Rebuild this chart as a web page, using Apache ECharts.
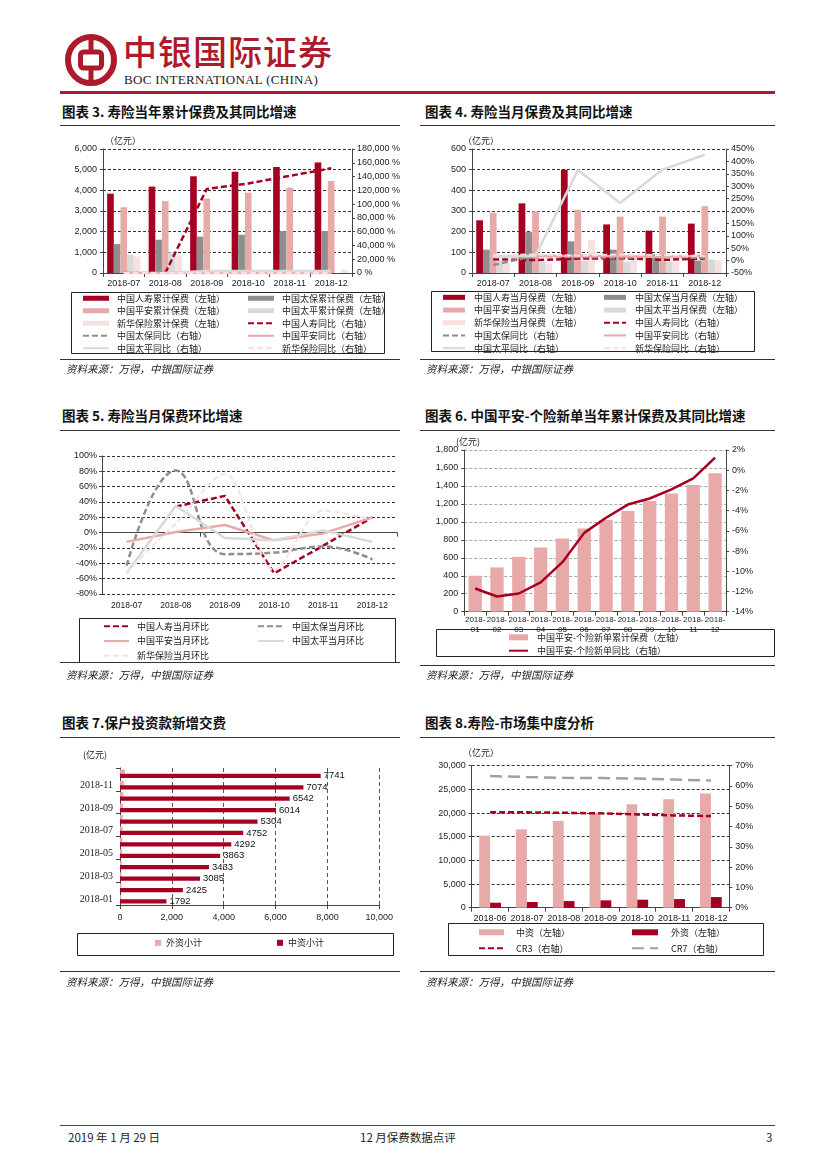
<!DOCTYPE html>
<html><head><meta charset="utf-8">
<script src="https://cdn.jsdelivr.net/npm/echarts@6/dist/echarts.min.js"></script>
<style>
body{margin:0;width:827px;height:1169px;background:#fff;position:relative;overflow:hidden;font-family:"Noto Sans CJK SC",sans-serif;}
.title{position:absolute;font-size:13.5px;font-weight:bold;color:#111;white-space:nowrap;line-height:16px;}
.hline{position:absolute;height:1px;background:#333;}
.src{position:absolute;font-size:10.5px;font-style:italic;color:#222;white-space:nowrap;line-height:14px;}
.chart{position:absolute;}
.txt{position:absolute;white-space:nowrap;}
</style></head><body>

<svg class="txt" style="left:64px;top:33px" width="54" height="54" viewBox="0 0 54 54">
  <circle cx="27" cy="27" r="23" fill="none" stroke="#ad1a2c" stroke-width="6"/>
  <rect x="16.5" y="19" width="21" height="16" rx="3" fill="none" stroke="#ad1a2c" stroke-width="5"/>
  <line x1="27" y1="4" x2="27" y2="19" stroke="#ad1a2c" stroke-width="5"/>
  <line x1="27" y1="35" x2="27" y2="50" stroke="#ad1a2c" stroke-width="5"/>
</svg>
<div class="txt" style="left:123px;top:30px;font-size:34px;font-weight:500;color:#ad1a2c;letter-spacing:1px;line-height:42px;">中银国际证券</div>
<div class="txt" style="left:124px;top:72px;font-size:13px;font-family:'Liberation Serif',serif;color:#222;letter-spacing:0.3px;line-height:16px;">BOC INTERNATIONAL (CHINA)</div>
<div class="hline" style="left:60px;top:91px;width:715px;height:3px;background:#ad1a2c;"></div>

<div class="title" style="left:62px;top:103px;">图表 3. 寿险当年累计保费及其同比增速</div>
<div class="title" style="left:425px;top:103px;">图表 4. 寿险当月保费及其同比增速</div>
<div class="hline" style="left:60px;top:125px;width:340px;"></div>
<div class="hline" style="left:420px;top:125px;width:355px;"></div>

<div class="title" style="left:62px;top:407px;">图表 5. 寿险当月保费环比增速</div>
<div class="title" style="left:425px;top:407px;">图表 6. 中国平安-个险新单当年累计保费及其同比增速</div>
<div class="hline" style="left:60px;top:430px;width:340px;"></div>
<div class="hline" style="left:420px;top:430px;width:355px;"></div>

<div class="title" style="left:62px;top:714px;">图表 7.保户投资款新增交费</div>
<div class="title" style="left:425px;top:714px;">图表 8.寿险-市场集中度分析</div>
<div class="hline" style="left:60px;top:737px;width:340px;"></div>
<div class="hline" style="left:420px;top:737px;width:355px;"></div>

<div id="c3" class="chart" style="left:55px;top:128px;width:350px;height:232px;"></div>
<div id="c4" class="chart" style="left:420px;top:128px;width:360px;height:232px;"></div>
<div id="c5" class="chart" style="left:50px;top:432px;width:355px;height:232px;"></div>
<div id="c6" class="chart" style="left:420px;top:432px;width:360px;height:232px;"></div>
<div id="c7" class="chart" style="left:50px;top:740px;width:355px;height:232px;"></div>
<div id="c8" class="chart" style="left:420px;top:740px;width:360px;height:232px;"></div>

<div class="hline" style="left:60px;top:359px;width:340px;"></div>
<div class="hline" style="left:420px;top:359px;width:355px;"></div>
<div class="src" style="left:66px;top:362px;">资料来源：万得，中银国际证券</div>
<div class="src" style="left:426px;top:362px;">资料来源：万得，中银国际证券</div>

<div class="hline" style="left:60px;top:662px;width:340px;"></div>
<div class="hline" style="left:420px;top:665px;width:355px;"></div>
<div class="src" style="left:66px;top:668px;">资料来源：万得，中银国际证券</div>
<div class="src" style="left:426px;top:668px;">资料来源：万得，中银国际证券</div>

<div class="hline" style="left:60px;top:971px;width:340px;"></div>
<div class="hline" style="left:420px;top:971px;width:355px;"></div>
<div class="src" style="left:66px;top:975px;">资料来源：万得，中银国际证券</div>
<div class="src" style="left:426px;top:975px;">资料来源：万得，中银国际证券</div>

<div class="hline" style="left:60px;top:1125px;width:715px;background:#ad1a2c;"></div>
<div class="txt" style="left:68px;top:1129px;font-size:11.5px;color:#222;">2019 年 1 月 29 日</div>
<div class="txt" style="left:360px;top:1129px;font-size:11.5px;color:#222;">12 月保费数据点评</div>
<div class="txt" style="left:766px;top:1129px;font-size:11.5px;color:#222;">3</div>

<script>
// ---------- DATA ----------
const months6 = ['2018-07','2018-08','2018-09','2018-10','2018-11','2018-12'];
// Chart 3: cumulative premiums (亿元) and YoY (%)
const c3ChinaLife = [3840,4180,4680,4900,5130,5350];
const c3Cpic = [1400,1610,1760,1850,2020,2030];
const c3PingAn = [3180,3480,3600,3890,4130,4450];
const c3Taiping = [890,1000,null,null,null,null];
const c3Xinhua = [800,850,null,null,null,150];
const c3ChinaLifeYoy = [null,0,122000,130000,141000,152000];
const c3CpicYoy = [15,13,14,14,13,13];
const c3PingAnYoy = [18,17,16,16,15,15];
const c3TaipingYoy = [null,0,3000,3000,3000,3000];
const c3XinhuaYoy = [6,5,4,4,3,3];
const c3Names = ['中国人寿累计保费（左轴）','中国太保累计保费（左轴）','中国平安累计保费（左轴）','中国太平累计保费（左轴）','新华保险累计保费（左轴）','中国人寿同比（右轴）','中国太保同比（右轴）','中国平安同比（右轴）','中国太平同比（右轴）','新华保险同比（右轴）'];

// Chart 4: monthly premiums (亿元) and YoY (%)
const c4ChinaLife = [255,337,500,235,205,239];
const c4Cpic = [113,198,153,113,90,60];
const c4PingAn = [292,298,306,273,273,323];
const c4Taiping = [60,55,60,55,55,65];
const c4Xinhua = [50,45,160,72,55,62];
const c4ChinaLifeYoy = [5,2,8,10,3,8];
const c4CpicYoy = [-18,20,15,12,18,10];
const c4PingAnYoy = [18,18,20,18,15,20];
const c4TaipingYoy = [15,20,365,232,367,427];
const c4XinhuaYoy = [22,25,20,25,22,18];
const c4Names = ['中国人寿当月保费（左轴）','中国太保当月保费（左轴）','中国平安当月保费（左轴）','中国太平当月保费（左轴）','新华保险当月保费（左轴）','中国人寿同比（右轴）','中国太保同比（右轴）','中国平安同比（右轴）','中国太平同比（右轴）','新华保险同比（右轴）'];

// Chart 5: month-on-month growth (%)
const c5ChinaLife = [null,34,48,-53,-17,20];
const c5Cpic = [-43,81,-28,-26,-18,-35];
const c5PingAn = [-12,1,10,-10,-1,20];
const c5Taiping = [-53,35,-7,-10,3,-12];
const c5Xinhua = [-51,12,77,-49,29,17];
const c5Names = ['中国人寿当月环比','中国太保当月环比','中国平安当月环比','中国太平当月环比','新华保险当月环比'];

// Chart 6: Ping An individual new business
const c6Cats = ['2018-01','2018-02','2018-03','2018-04','2018-05','2018-06','2018-07','2018-08','2018-09','2018-10','2018-11','2018-12'];
const c6Premium = [400,493,611,715,815,927,1020,1120,1231,1317,1410,1540];
const c6Yoy = [-11.7,-12.5,-12.2,-11.1,-9.1,-6.2,-4.7,-3.4,-2.8,-1.9,-0.8,1.25];
const c6Names = ['中国平安-个险新单累计保费（左轴）','中国平安-个险新单同比（右轴）'];

// Chart 7: investment-type contracts new deposits (亿元)
const c7Cats = ['2018-01','2018-02','2018-03','2018-04','2018-05','2018-06','2018-07','2018-08','2018-09','2018-10','2018-11','2018-12'];
const c7Foreign = [50,55,60,70,70,90,100,110,110,130,150,190];
const c7Domestic = [1792,2425,3085,3433,3863,4292,4752,5304,6014,6542,7074,7741];
const c7Names = ['外资小计','中资小计'];

// Chart 8: market concentration
const c8Cats = ['2018-06','2018-07','2018-08','2018-09','2018-10','2018-11','2018-12'];
const c8Domestic = [15210,16550,18310,20070,21830,22890,24150];
const c8Foreign = [1060,1200,1400,1550,1690,1830,2250];
const c8CR3 = [47.0,47.0,46.8,46.5,46.0,45.5,45.2];
const c8CR7 = [64.9,64.4,64.0,63.9,63.7,63.2,62.7];
const c8Names = ['中资（左轴）','外资（左轴）','CR3（右轴）','CR7（右轴）'];

// ---------- STYLE HELPERS ----------
const NUMF = '"Liberation Sans", Arial, sans-serif';
const CNF = '"Noto Sans CJK SC", sans-serif';
const SERIF = '"Liberation Serif", "Times New Roman", serif';
const C_LIFE = '#a50021', C_CPIC = '#8e8e8e', C_PA = '#e8a9a9', C_TP = '#d9d9d9', C_XH = '#f8e0e0';
const comma = v => v.toLocaleString('en-US');
const axLine = {show:true, lineStyle:{color:'#444', width:1}};
const axTick = {show:true, length:3, lineStyle:{color:'#444'}};
const lbl = extra => Object.assign({fontFamily:NUMF, fontSize:9, color:'#222'}, extra || {});
const darkGrid = {show:true, lineStyle:{color:'#333', width:1, type:[3,2]}};

function barS(name, data, color, extra){
  return Object.assign({type:'bar', name, data, yAxisIndex:0, itemStyle:{color}, barGap:'0%', barCategoryGap:'20%'}, extra || {});
}
function lineS(name, data, color, width, dash, extra){
  return Object.assign({type:'line', name, data, yAxisIndex:1, symbol:'none', z:5,
    lineStyle:{color, width, type: dash || 'solid'}, itemStyle:{color}}, extra || {});
}
function legendCol(left, top, data, pitch, iw, ih, pad){
  return {orient:'vertical', left, top, padding:0, itemGap:0, itemWidth:iw, itemHeight:ih, selectedMode:false,
    textStyle:{fontFamily:CNF, fontSize:9, color:'#222', lineHeight:pitch, padding:[0,0,0,pad||3]}, data};
}
function box(x, y, w, h){
  return {type:'rect', z:-1, shape:{x:x+0.5, y:y+0.5, width:w, height:h}, style:{fill:'transparent', stroke:'#222', lineWidth:1}};
}
function unit(x, y, text){
  return {type:'text', z:3, x, y, style:{text: text || '（亿元）', fontSize:9, fontFamily:CNF, fill:'#222'}};
}
const bi = n => ({name:n, icon:'rect'});
const li = n => ({name:n, itemStyle:{opacity:0}});
const catLbl = extra => lbl(Object.assign({interval:0}, extra || {}));

// ---------- CHART 3 ----------
echarts.init(document.getElementById('c3')).setOption({
  animation:false,
  grid:{left:48, right:53, top:21, bottom:87},
  xAxis:{type:'category', data:months6, axisLine:axLine, axisTick:{show:true, length:4, lineStyle:{color:'#444'}}, axisLabel:catLbl({margin:6})},
  yAxis:[
    {type:'value', min:0, max:6000, interval:1000, axisLine:axLine, axisTick:axTick, axisLabel:lbl({formatter:comma, margin:6}), splitLine:darkGrid},
    {type:'value', min:0, max:180000, interval:20000, position:'right', axisLine:axLine, axisTick:axTick, axisLabel:lbl({formatter:'{value} %', margin:5}), splitLine:{show:false}}
  ],
  legend:[
    legendCol(27, 164, [bi(c3Names[0]), bi(c3Names[2]), bi(c3Names[4]), li(c3Names[6]), li(c3Names[8])], 12.5, 26, 5, 3),
    legendCol(192, 164, [bi(c3Names[1]), bi(c3Names[3]), li(c3Names[5]), li(c3Names[7]), li(c3Names[9])], 12.5, 26, 5, 3)
  ],
  graphic:[box(16, 164, 313, 61), unit(50, 8)],
  series:[
    barS(c3Names[0], c3ChinaLife, C_LIFE),
    barS(c3Names[1], c3Cpic, C_CPIC),
    barS(c3Names[2], c3PingAn, C_PA),
    barS(c3Names[3], c3Taiping, C_TP),
    barS(c3Names[4], c3Xinhua, C_XH),
    lineS(c3Names[5], c3ChinaLifeYoy, C_LIFE, 2.5, [6,3]),
    lineS(c3Names[6], c3CpicYoy, C_CPIC, 2.5, [6,3]),
    lineS(c3Names[7], c3PingAnYoy, C_PA, 2.5),
    lineS(c3Names[8], c3TaipingYoy, C_TP, 2.5),
    lineS(c3Names[9], c3XinhuaYoy, C_XH, 2, [6,3])
  ]
});

// ---------- CHART 4 ----------
echarts.init(document.getElementById('c4')).setOption({
  animation:false,
  grid:{left:52, right:54, top:21, bottom:87},
  xAxis:{type:'category', data:months6, axisLine:Object.assign({onZero:false}, axLine), axisTick:{show:true, length:4, lineStyle:{color:'#444'}}, axisLabel:catLbl({margin:6})},
  yAxis:[
    {type:'value', min:0, max:600, interval:100, axisLine:axLine, axisTick:axTick, axisLabel:lbl({margin:6}), splitLine:darkGrid},
    {type:'value', min:-50, max:450, interval:50, position:'right', axisLine:axLine, axisTick:axTick, axisLabel:lbl({formatter:'{value}%', margin:5}), splitLine:{show:false}}
  ],
  legend:[
    legendCol(22, 163, [bi(c4Names[0]), bi(c4Names[2]), bi(c4Names[4]), li(c4Names[6]), li(c4Names[8])], 12.7, 22, 5, 4),
    legendCol(183, 163, [bi(c4Names[1]), bi(c4Names[3]), li(c4Names[5]), li(c4Names[7]), li(c4Names[9])], 12.7, 22, 5, 4)
  ],
  graphic:[box(11, 163, 323, 60), unit(43, 8)],
  series:[
    barS(c4Names[0], c4ChinaLife, C_LIFE),
    barS(c4Names[1], c4Cpic, C_CPIC),
    barS(c4Names[2], c4PingAn, C_PA),
    barS(c4Names[3], c4Taiping, C_TP),
    barS(c4Names[4], c4Xinhua, C_XH),
    lineS(c4Names[5], c4ChinaLifeYoy, C_LIFE, 2.5, [6,3]),
    lineS(c4Names[6], c4CpicYoy, C_CPIC, 2.5, [6,3]),
    lineS(c4Names[7], c4PingAnYoy, C_PA, 2.5),
    lineS(c4Names[8], c4TaipingYoy, C_TP, 2.5),
    lineS(c4Names[9], c4XinhuaYoy, C_XH, 2, [6,3])
  ]
});

// ---------- CHART 5 ----------
echarts.init(document.getElementById('c5')).setOption({
  animation:false,
  grid:{left:52, right:8, top:24, bottom:70},
  xAxis:[
    {type:'category', data:months6, position:'bottom', axisLine:{show:false, onZero:false}, axisTick:{show:false}, axisLabel:catLbl({margin:7, fontSize:8.5})},
    {type:'category', data:months6, position:'bottom', axisLine:Object.assign({onZero:true, onZeroAxisIndex:0}, axLine), axisTick:{show:true, interval:1, length:4, lineStyle:{color:'#444'}}, axisLabel:{show:false}}
  ],
  yAxis:{type:'value', min:-80, max:100, interval:20, axisLine:axLine, axisTick:axTick, axisLabel:lbl({formatter:'{value}%', margin:5}), splitLine:darkGrid},
  legend:[
    legendCol(53, 187, [li(c5Names[0]), li(c5Names[2]), li(c5Names[4])], 14.7, 25, 5, 3),
    legendCol(207, 187, [li(c5Names[1]), li(c5Names[3])], 14.7, 26, 5, 3)
  ],
  graphic:[box(29, 186, 316, 44)],
  series:[
    lineS(c5Names[0], c5ChinaLife, C_LIFE, 2.5, [6,3], {yAxisIndex:0}),
    lineS(c5Names[1], c5Cpic, C_CPIC, 2.5, [6,3], {yAxisIndex:0, smooth:0.45}),
    lineS(c5Names[2], c5PingAn, C_PA, 2.5, null, {yAxisIndex:0}),
    lineS(c5Names[3], c5Taiping, C_TP, 2.5, null, {yAxisIndex:0}),
    lineS(c5Names[4], c5Xinhua, C_XH, 2, [6,3], {yAxisIndex:0, smooth:0.3})
  ]
});

// ---------- CHART 6 ----------
const lightGrid = {show:true, lineStyle:{color:'#a8a8a8', width:1, type:[3,2]}};
echarts.init(document.getElementById('c6')).setOption({
  animation:false,
  grid:{left:44.3, right:54, top:18, bottom:52.3},
  xAxis:{type:'category', data:c6Cats, axisLine:Object.assign({onZero:false}, axLine), axisTick:{show:true, length:4, lineStyle:{color:'#444'}},
    axisLabel:catLbl({fontSize:8, lineHeight:10, margin:3, formatter:v => v.replace('-', '-\n')})},
  yAxis:[
    {type:'value', min:0, max:1800, interval:200, axisLine:axLine, axisTick:axTick, axisLabel:lbl({formatter:comma, margin:6}), splitLine:lightGrid},
    {type:'value', min:-14, max:2, interval:2, position:'right', axisLine:axLine, axisTick:axTick, axisLabel:lbl({formatter:'{value}%', margin:6}), splitLine:{show:false}}
  ],
  legend:legendCol(88, 198.6, [bi(c6Names[0]), li(c6Names[1])], 13.4, 19, 6, 4),
  graphic:[box(16, 197, 338, 27), unit(36, 5, '(亿元)')],
  series:[
    {type:'bar', name:c6Names[0], data:c6Premium, yAxisIndex:0, itemStyle:{color:C_PA}, barCategoryGap:'39%'},
    lineS(c6Names[1], c6Yoy, C_LIFE, 2.5)
  ]
});

// ---------- CHART 7 ----------
echarts.init(document.getElementById('c7')).setOption({
  animation:false,
  grid:{left:70, right:25.7, top:28, bottom:67},
  xAxis:{type:'value', min:0, max:10000, interval:2000, axisLine:axLine, axisTick:{show:true, length:4, lineStyle:{color:'#444'}},
    axisLabel:lbl({formatter:comma, margin:8}), splitLine:{show:true, lineStyle:{color:'#555', width:1, type:[4,3]}}},
  yAxis:{type:'category', data:c7Cats, axisLine:axLine, axisTick:{show:true, interval:1, length:4, lineStyle:{color:'#444'}},
    axisLabel:{interval:1, fontFamily:SERIF, fontSize:10, color:'#222', margin:7}},
  legend:{left:105, top:198.3, padding:0, itemGap:75, itemWidth:6, itemHeight:6, selectedMode:false,
    textStyle:{fontFamily:CNF, fontSize:9, color:'#222'}, data:[bi(c7Names[0]), bi(c7Names[1])]},
  graphic:[box(27, 193, 316, 22), unit(33, 10, '(亿元)')],
  series:[
    {type:'bar', name:c7Names[0], data:c7Foreign, itemStyle:{color:C_PA}, barGap:'0%', barCategoryGap:'25%'},
    {type:'bar', name:c7Names[1], data:c7Domestic, itemStyle:{color:C_LIFE}, barGap:'0%', barCategoryGap:'25%',
      label:{show:true, position:'right', distance:3, fontFamily:NUMF, fontSize:9.5, color:'#111'}}
  ]
});

// ---------- CHART 8 ----------
echarts.init(document.getElementById('c8')).setOption({
  animation:false,
  grid:{left:51.7, right:50.7, top:25.7, bottom:64.3},
  xAxis:{type:'category', data:c8Cats, axisLine:Object.assign({onZero:false}, axLine), axisTick:{show:true, length:4, lineStyle:{color:'#444'}}, axisLabel:catLbl({margin:6})},
  yAxis:[
    {type:'value', min:0, max:30000, interval:5000, axisLine:axLine, axisTick:axTick, axisLabel:lbl({formatter:comma, margin:6}), splitLine:darkGrid},
    {type:'value', min:0, max:70, interval:10, position:'right', axisLine:axLine, axisTick:axTick, axisLabel:lbl({formatter:'{value}%', margin:6}), splitLine:{show:false}}
  ],
  legend:[
    legendCol(58, 184.3, [bi(c8Names[0]), li(c8Names[2])], 16, 25, 6, 7),
    legendCol(211, 184.3, [bi(c8Names[1]), li(c8Names[3])], 16, 26, 6, 8)
  ],
  graphic:[box(28, 183, 315, 32), unit(43, 8)],
  series:[
    {type:'bar', name:c8Names[0], data:c8Domestic, yAxisIndex:0, itemStyle:{color:C_PA}, barGap:'0%', barCategoryGap:'41%'},
    {type:'bar', name:c8Names[1], data:c8Foreign, yAxisIndex:0, itemStyle:{color:C_LIFE}, barGap:'0%', barCategoryGap:'41%'},
    lineS(c8Names[2], c8CR3, C_LIFE, 2.5, [6,3]),
    lineS(c8Names[3], c8CR7, '#a0a0a0', 2.5, [12,6])
  ]
});
</script>
</body></html>
